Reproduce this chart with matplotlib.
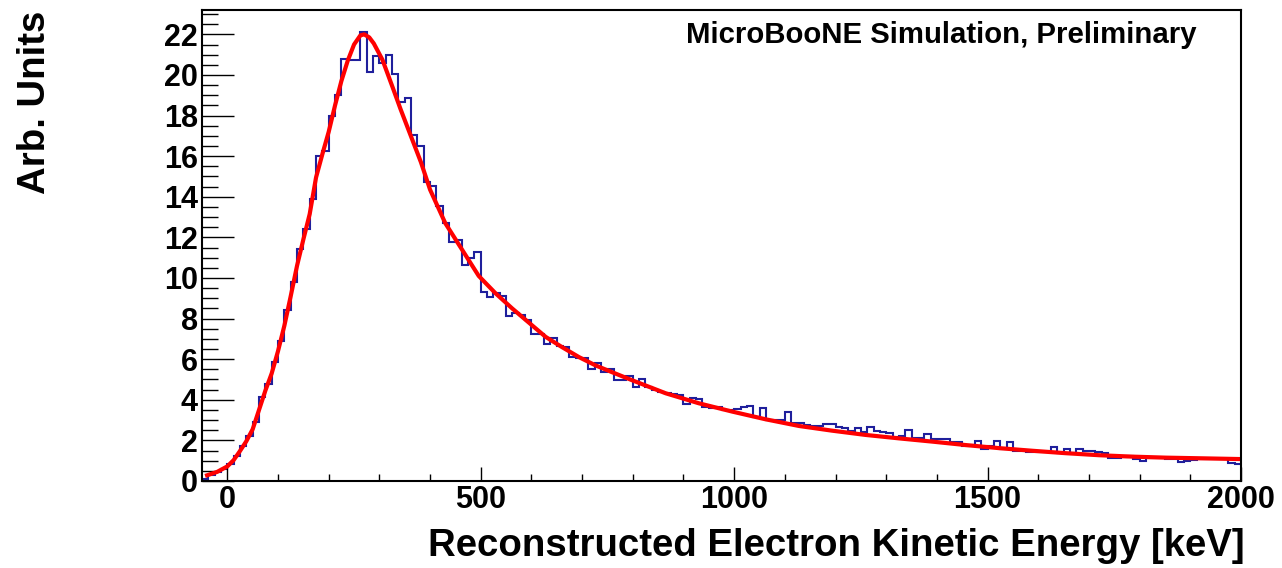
import numpy as np
import matplotlib
matplotlib.use("Agg")
import matplotlib.pyplot as plt
from matplotlib.ticker import MultipleLocator

plt.rcParams['font.family'] = ['Liberation Sans', 'DejaVu Sans']
plt.rcParams['font.weight'] = 'bold'

# histogram: 164 bins of 12.5 keV from -50 to 2000 keV
bin_lo = -50.0
bin_width = 12.5
counts = [
    0.12, 0.32, 0.45, 0.6, 0.82, 1.25, 1.72, 2.2, 2.92, 4.15,
    4.76, 5.85, 6.9, 8.4, 9.78, 11.45, 12.4, 13.9, 16.0, 16.26,
    18.0, 19.0, 20.8, 20.75, 20.75, 22.1, 20.14, 20.95, 20.6, 20.96,
    20.06, 18.66, 18.86, 17.05, 16.48, 14.72, 14.54, 13.55, 12.7, 11.75,
    11.88, 10.65, 10.97, 11.3, 9.33, 9.05, 9.25, 9.12, 8.15, 8.26,
    8.18, 7.93, 7.24, 7.24, 6.75, 7.03, 6.65, 6.62, 6.13, 6.05,
    6.05, 5.5, 5.83, 5.39, 5.5, 4.98, 4.98, 5.18, 4.65, 5.01,
    4.62, 4.5, 4.4, 4.35, 4.3, 4.24, 3.8, 4.07, 4.05, 3.63,
    3.58, 3.66, 3.5, 3.5, 3.53, 3.63, 3.7, 3.17, 3.58, 3.0,
    3.0, 3.0, 3.42, 2.87, 2.84, 2.76, 2.71, 2.71, 2.81, 2.81,
    2.68, 2.6, 2.48, 2.6, 2.43, 2.64, 2.48, 2.43, 2.35, 2.18,
    2.22, 2.51, 2.1, 2.1, 2.3, 2.05, 2.07, 2.07, 1.94, 1.94,
    1.7, 1.77, 1.98, 1.58, 1.72, 1.99, 1.59, 1.94, 1.49, 1.49,
    1.41, 1.45, 1.45, 1.45, 1.66, 1.4, 1.56, 1.36, 1.59, 1.48,
    1.48, 1.45, 1.36, 1.12, 1.12, 1.17, 1.23, 1.1, 1.0, 1.12,
    1.12, 1.12, 1.07, 1.07, 0.95, 0.97, 1.03, 1.07, 1.07, 1.07,
    1.07, 1.07, 0.87, 0.84,
]

fit_e = [-40, -20, 0, 12.5, 25, 37.5, 50, 62.5, 75, 87.5, 100, 112.5, 125,
         137.5, 150, 162.5, 175, 187.5, 200, 212.5, 225, 237.5, 250, 262.5,
         270, 280, 289, 306, 326, 342, 362, 382, 400, 430, 463, 496, 529, 562,
         595, 628, 660, 694, 726, 760, 800, 865, 930, 996, 1062, 1128, 1193,
         1259, 1325, 1391, 1457, 1522, 1588, 1654, 1720, 1786, 1852, 1917, 2000]
fit_v = [0.28, 0.45, 0.72, 1.03, 1.48, 1.96, 2.55, 3.5, 4.45, 5.3, 6.4, 7.65,
         9.1, 10.6, 11.9, 13.15, 14.95, 16.1, 17.2, 18.5, 19.7, 20.7, 21.5,
         21.95, 22.0, 21.85, 21.55, 20.75, 19.4, 18.3, 17.0, 15.7, 14.35, 12.7,
         11.4, 10.1, 9.25, 8.5, 7.8, 7.1, 6.6, 6.1, 5.7, 5.35, 4.95, 4.32, 3.83,
         3.42, 3.04, 2.71, 2.48, 2.27, 2.1, 1.94, 1.77, 1.62, 1.49, 1.37, 1.27,
         1.2, 1.15, 1.12, 1.08]

edges = bin_lo + bin_width * np.arange(len(counts) + 1)

fig = plt.figure(figsize=(12.82, 5.68), dpi=100)
ax = fig.add_axes([202 / 1282, 87 / 568, (1241 - 202) / 1282, (558 - 87) / 568])

ax.stairs(counts, edges, baseline=None, color='#1f1f9c', linewidth=1.5)
ax.plot(fit_e, fit_v, color='#ff0000', linewidth=3.0)

ax.set_xlim(-50, 2000)
ax.set_ylim(0, 23.2)

ax.xaxis.set_major_locator(MultipleLocator(500))
ax.xaxis.set_minor_locator(MultipleLocator(100))
ax.yaxis.set_major_locator(MultipleLocator(2))
ax.yaxis.set_minor_locator(MultipleLocator(0.5))

ax.tick_params(axis='both', which='both', direction='in', top=False, right=False,
               labelsize=22, width=1.0)
ax.tick_params(axis='y', which='major', length=23, pad=3)
ax.tick_params(axis='y', which='minor', length=11.5)
ax.tick_params(axis='x', which='major', length=10, pad=3)
ax.tick_params(axis='x', which='minor', length=5.4)
for lab in ax.get_xticklabels() + ax.get_yticklabels():
    lab.set_fontweight('bold')

for s in ax.spines.values():
    s.set_linewidth(1.5)

fig.text(1245 / 1282, 1 - 546 / 568, 'Reconstructed Electron Kinetic Energy [keV]',
         ha='right', va='center', fontsize=27.6, fontweight='bold')
fig.text(35 / 1282, 1 - 11 / 568, 'Arb. Units', rotation=90,
         ha='center', va='top', fontsize=27.6, fontweight='bold')
ax.text(686 / 1282, 1 - 35 / 568, 'MicroBooNE Simulation, Preliminary',
        transform=fig.transFigure, ha='left', va='center', fontsize=21.2,
        fontweight='bold')

fig.savefig('out.png', dpi=100)
